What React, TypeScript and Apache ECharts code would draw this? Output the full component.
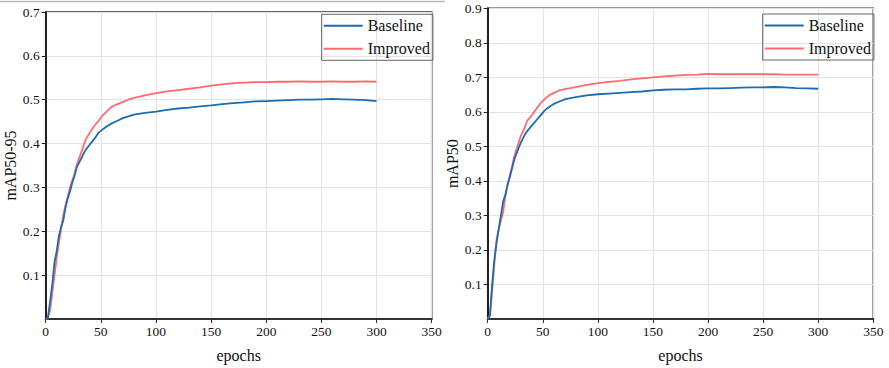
import React, { useEffect, useRef } from "react";
import * as echarts from "echarts";

const epochs = [0, 2, 4, 6, 8, 10, 12, 14, 16, 18, 20, 22, 24, 26, 28, 30, 33, 36, 40, 44, 48, 52, 56, 60, 65, 70, 75, 80, 90, 100, 110, 120, 130, 140, 150, 160, 170, 180, 190, 200, 210, 220, 230, 240, 250, 260, 270, 280, 290, 300];

const baseline5095 = [0, 0.003, 0.04, 0.08, 0.13, 0.155, 0.19, 0.21, 0.225, 0.255, 0.275, 0.29, 0.31, 0.325, 0.345, 0.355, 0.37, 0.385, 0.398, 0.41, 0.425, 0.433, 0.44, 0.446, 0.452, 0.458, 0.462, 0.466, 0.47, 0.473, 0.477, 0.48, 0.482, 0.485, 0.487, 0.49, 0.492, 0.494, 0.496, 0.497, 0.498, 0.499, 0.5, 0.5, 0.501, 0.502, 0.501, 0.5, 0.499, 0.497];
const improved5095 = [0, 0.002, 0.02, 0.06, 0.1, 0.14, 0.175, 0.205, 0.238, 0.26, 0.28, 0.3, 0.315, 0.33, 0.35, 0.365, 0.385, 0.408, 0.425, 0.44, 0.452, 0.465, 0.475, 0.484, 0.49, 0.495, 0.5, 0.504, 0.51, 0.515, 0.519, 0.522, 0.525, 0.528, 0.532, 0.535, 0.538, 0.539, 0.54, 0.54, 0.541, 0.541, 0.542, 0.541, 0.541, 0.542, 0.541, 0.541, 0.542, 0.541];
const baseline50 = [0, 0.01, 0.1, 0.17, 0.22, 0.26, 0.3, 0.34, 0.36, 0.39, 0.41, 0.435, 0.46, 0.478, 0.495, 0.51, 0.53, 0.545, 0.56, 0.575, 0.59, 0.605, 0.615, 0.623, 0.63, 0.636, 0.64, 0.643, 0.648, 0.651, 0.653, 0.655, 0.657, 0.659, 0.662, 0.664, 0.665, 0.665, 0.667, 0.668, 0.668, 0.669, 0.67, 0.671, 0.671, 0.672, 0.671, 0.669, 0.668, 0.667];
const improved50 = [0, 0.01, 0.077, 0.16, 0.23, 0.26, 0.285, 0.31, 0.355, 0.385, 0.415, 0.44, 0.47, 0.49, 0.51, 0.53, 0.55, 0.575, 0.59, 0.608, 0.625, 0.638, 0.648, 0.655, 0.662, 0.666, 0.669, 0.672, 0.678, 0.683, 0.687, 0.69, 0.694, 0.697, 0.7, 0.703, 0.705, 0.707, 0.708, 0.71, 0.709, 0.709, 0.709, 0.709, 0.709, 0.709, 0.708, 0.708, 0.708, 0.708];

const seriesNames = ["Baseline", "Improved"];
const xTicks = { min: 0, max: 350, interval: 50 };
const yLeft = { min: 0, max: 0.7, interval: 0.1, name: "mAP50-95" };
const yRight = { min: 0, max: 0.9, interval: 0.1, name: "mAP50" };

const BLUE = "#1c6cb0";
const RED = "#ff6b6e";
const FONT = "'Liberation Serif', 'Times New Roman', serif";

function pairs(xs: number[], ys: number[]) {
  return xs.map((x, i) => [x, ys[i]]);
}

export default function App() {
  const ref = useRef<HTMLDivElement>(null);
  useEffect(() => {
    if (!ref.current) return;
    const chart = echarts.init(ref.current, null, { renderer: "svg" });
    const grids = [
      { left: 45.7, top: 12, width: 386, height: 310 },
      { left: 487.7, top: 8.3, width: 385.6, height: 311.7 },
    ];
    const xAxis = grids.map((_, i) => ({
      type: "value",
      gridIndex: i,
      min: xTicks.min,
      max: xTicks.max,
      interval: xTicks.interval,
      name: "epochs",
      nameLocation: "middle",
      nameGap: 28,
      nameTextStyle: { fontFamily: FONT, fontSize: 16, color: "#111" },
      axisLine: { show: true, lineStyle: { color: "#333", width: 2 } },
      axisTick: { show: true, inside: false, length: 4, lineStyle: { color: "#333" } },
      axisLabel: { fontFamily: FONT, fontSize: 13.5, color: "#111", margin: 5 },
      splitLine: { show: true, lineStyle: { color: "#e3e3e3", width: 1 } },
    }));
    const yAxis = [yLeft, yRight].map((y, i) => ({
      type: "value",
      gridIndex: i,
      min: y.min,
      max: y.max,
      interval: y.interval,
      name: y.name,
      nameLocation: "middle",
      nameRotate: 90,
      nameGap: i === 0 ? 24 : 25,
      nameTextStyle: { fontFamily: FONT, fontSize: 16, color: "#111" },
      axisLine: { show: true, lineStyle: { color: "#222", width: 2 } },
      axisTick: { show: true, inside: false, length: 4, lineStyle: { color: "#222" } },
      axisLabel: { fontFamily: FONT, fontSize: 13.5, color: "#111", margin: 6, showMinLabel: false },
      splitLine: { show: true, lineStyle: { color: "#e3e3e3", width: 1 } },
    }));
    const data = [
      [baseline5095, improved5095],
      [baseline50, improved50],
    ];
    const series: any[] = [];
    data.forEach((pair, gi) => {
      pair.forEach((vals, si) => {
        series.push({
          type: "line",
          name: seriesNames[si],
          xAxisIndex: gi,
          yAxisIndex: gi,
          data: pairs(epochs, vals),
          symbol: "none",
          showSymbol: false,
          lineStyle: { color: si === 0 ? BLUE : RED, width: 1.8 },
          itemStyle: { color: si === 0 ? BLUE : RED },
          z: si === 0 ? 3 : 2,
        });
      });
    });
    const legendBase = {
      orient: "vertical",
      data: seriesNames,
      itemWidth: 39,
      itemHeight: 14,
      itemGap: 7,
      itemStyle: { opacity: 0 },
      padding: [3.5, 3, 3.5, 1],
      borderColor: "#666",
      borderWidth: 1,
      textStyle: { fontFamily: FONT, fontSize: 16, color: "#111" },
    };
    chart.setOption({
      animation: false,
      textStyle: { fontFamily: FONT },
      grid: grids.map((g) => ({ ...g, show: true, borderColor: "#333", borderWidth: 1.5, backgroundColor: "transparent" })),
      xAxis,
      yAxis,
      legend: [
        { ...legendBase, left: 321.7, top: 14.3 },
        { ...legendBase, left: 762.7, top: 14 },
      ],
      series,
      graphic: [
        {
          type: "line",
          shape: { x1: 0, y1: 1.5, x2: 445, y2: 1.5 },
          style: { stroke: "#bbb", lineWidth: 1.5 },
        },
      ],
    });
    return () => chart.dispose();
  }, []);
  return (
    <div
      ref={ref}
      style={{ position: "fixed", left: 0, top: 0, width: 889, height: 368, background: "#fff" }}
    />
  );
}
